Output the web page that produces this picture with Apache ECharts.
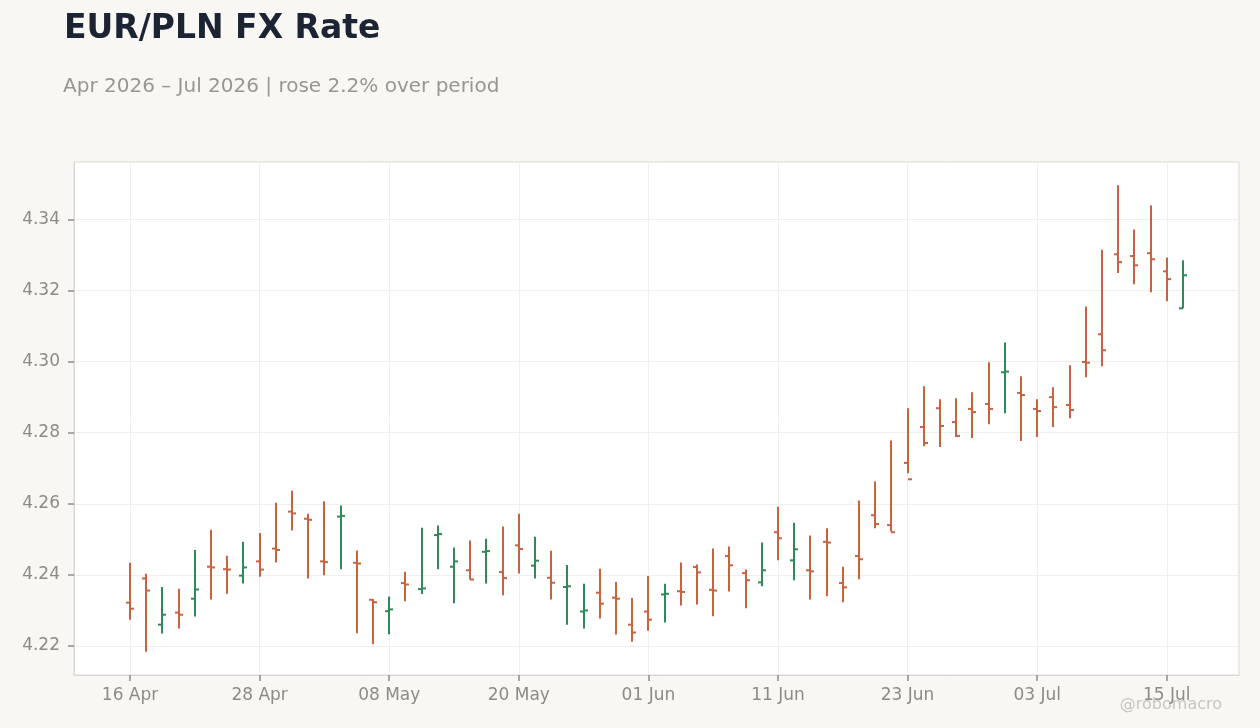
<!DOCTYPE html>
<html>
<head>
<meta charset="utf-8">
<script src="https://cdn.jsdelivr.net/npm/echarts@6.0.0/dist/echarts.min.js"></script>
<style>
  html, body { margin: 0; padding: 0; background: #f8f7f4; }
  #chart { width: 1260px; height: 728px; }
</style>
</head>
<body>
<div id="chart"></div>
<script>
// trading days, Apr 16 - Jul 16 2026
const dates = [
  '16 Apr', '17 Apr', '20 Apr', '21 Apr', '22 Apr', '23 Apr', '24 Apr', '27 Apr', '28 Apr', '29 Apr', '30 Apr',
  '01 May', '04 May', '05 May', '06 May', '07 May', '08 May', '11 May', '12 May', '13 May', '14 May', '15 May',
  '18 May', '19 May', '20 May', '21 May', '22 May', '25 May', '26 May', '27 May', '28 May', '29 May',
  '01 Jun', '02 Jun', '03 Jun', '04 Jun', '05 Jun', '08 Jun', '09 Jun', '10 Jun', '11 Jun', '12 Jun',
  '15 Jun', '16 Jun', '17 Jun', '18 Jun', '19 Jun', '22 Jun', '23 Jun', '24 Jun', '25 Jun', '26 Jun',
  '29 Jun', '30 Jun', '01 Jul', '02 Jul', '03 Jul', '06 Jul', '07 Jul', '08 Jul', '09 Jul', '10 Jul',
  '13 Jul', '14 Jul', '15 Jul', '16 Jul'
];

const opens = [
  4.2322, 4.2390, 4.2260, 4.2294, 4.2333, 4.2423, 4.2416, 4.2398, 4.2438, 4.2474, 4.2578,
  4.2558, 4.2438, 4.2564, 4.2434, 4.2330, 4.2298, 4.2377, 4.2360, 4.2512, 4.2423, 4.2413,
  4.2465, 4.2408, 4.2483, 4.2426, 4.2392, 4.2366, 4.2297, 4.2350, 4.2336, 4.2260,
  4.2297, 4.2345, 4.2354, 4.2422, 4.2358, 4.2453, 4.2405, 4.2379, 4.2520, 4.2441,
  4.2413, 4.2493, 4.2377, 4.2453, 4.2568, 4.2540, 4.2715, 4.2816, 4.2869, 4.2830,
  4.2867, 4.2881, 4.2970, 4.2912, 4.2867, 4.2900, 4.2878, 4.2999, 4.3077, 4.3302,
  4.3297, 4.3305, 4.3254, 4.3150
];
const highs = [
  4.2434, 4.2403, 4.2366, 4.2361, 4.2470, 4.2527, 4.2454, 4.2493, 4.2518, 4.2603, 4.2637,
  4.2572, 4.2607, 4.2595, 4.2469, 4.2332, 4.2339, 4.2409, 4.2533, 4.2539, 4.2477, 4.2497,
  4.2502, 4.2536, 4.2572, 4.2507, 4.2468, 4.2428, 4.2375, 4.2417, 4.2380, 4.2335,
  4.2397, 4.2375, 4.2435, 4.2429, 4.2474, 4.2480, 4.2415, 4.2491, 4.2592, 4.2547,
  4.2511, 4.2531, 4.2423, 4.2609, 4.2663, 4.2778, 4.2869, 4.2931, 4.2894, 4.2897,
  4.2914, 4.2998, 4.3054, 4.2959, 4.2894, 4.2928, 4.2990, 4.3155, 4.3315, 4.3496,
  4.3372, 4.3439, 4.3293, 4.3285
];
const lows = [
  4.2274, 4.2184, 4.2235, 4.2249, 4.2283, 4.2331, 4.2347, 4.2376, 4.2395, 4.2435, 4.2525,
  4.2390, 4.2399, 4.2416, 4.2236, 4.2205, 4.2233, 4.2326, 4.2346, 4.2416, 4.2320, 4.2387,
  4.2376, 4.2343, 4.2404, 4.2390, 4.2331, 4.2260, 4.2249, 4.2277, 4.2232, 4.2212,
  4.2243, 4.2266, 4.2314, 4.2317, 4.2284, 4.2353, 4.2306, 4.2368, 4.2441, 4.2385,
  4.2331, 4.2340, 4.2323, 4.2388, 4.2531, 4.2522, 4.2686, 4.2762, 4.2760, 4.2788,
  4.2785, 4.2824, 4.2855, 4.2777, 4.2788, 4.2816, 4.2841, 4.2956, 4.2987, 4.3249,
  4.3218, 4.3195, 4.3170, 4.3150
];
const closes = [
  4.2305, 4.2356, 4.2288, 4.2288, 4.2359, 4.2421, 4.2415, 4.2421, 4.2415, 4.2470, 4.2573,
  4.2555, 4.2436, 4.2566, 4.2432, 4.2323, 4.2303, 4.2373, 4.2362, 4.2515, 4.2438, 4.2387,
  4.2467, 4.2391, 4.2473, 4.2440, 4.2378, 4.2368, 4.2300, 4.2319, 4.2333, 4.2238,
  4.2274, 4.2347, 4.2352, 4.2407, 4.2356, 4.2427, 4.2385, 4.2413, 4.2503, 4.2472,
  4.2410, 4.2491, 4.2365, 4.2444, 4.2543, 4.2520, 4.2669, 4.2771, 4.2819, 4.2791,
  4.2858, 4.2867, 4.2972, 4.2906, 4.2861, 4.2872, 4.2864, 4.2997, 4.3032, 4.3280,
  4.3271, 4.3288, 4.3232, 4.3243
];

// axis ticks
const xTickIdx = [0, 8, 16, 24, 32, 40, 48, 56, 64];
const yTicks = [4.22, 4.24, 4.26, 4.28, 4.30, 4.32, 4.34];

const UP = '#2e8b57';
const DOWN = '#c9623f';
const FONT = 'DejaVu Sans';
const LABEL = '#8f8a85';
const FRAME = '#dcd7d0';
const TICK = '#8f8a85';

const ohlc = dates.map((d, i) => [i, opens[i], highs[i], lows[i], closes[i]]);

function renderOhlc(params, api) {
  const i = api.value(0);
  const pO = api.coord([i, api.value(1)]);
  const pH = api.coord([i, api.value(2)]);
  const pL = api.coord([i, api.value(3)]);
  const pC = api.coord([i, api.value(4)]);
  const x = Math.round(pO[0]);
  const color = api.value(4) >= api.value(1) ? UP : DOWN;
  const st = { stroke: color, lineWidth: 2 };
  return {
    type: 'group',
    children: [
      { type: 'line', shape: { x1: x, y1: pH[1], x2: x, y2: pL[1] }, style: st },
      { type: 'line', shape: { x1: x - 4, y1: pO[1], x2: x, y2: pO[1] }, style: st },
      { type: 'line', shape: { x1: x, y1: pC[1], x2: x + 4, y2: pC[1] }, style: st }
    ]
  };
}

const chart = echarts.init(document.getElementById('chart'), null, { renderer: 'canvas' });
chart.setOption({
  backgroundColor: '#f8f7f4',
  animation: false,
  title: [
    {
      text: 'EUR/PLN FX Rate',
      left: 59, top: 8,
      textStyle: { fontFamily: FONT, fontSize: 33, fontWeight: 'bold', color: '#1c2434' }
    },
    {
      text: 'Apr 2026 \u2013 Jul 2026 | rose 2.2% over period',
      left: 58, top: 72,
      textStyle: { fontFamily: FONT, fontSize: 20, fontWeight: 'normal', color: '#9a9590' }
    }
  ],
  graphic: [
    {
      type: 'text', right: 38, top: 697, z: 100,
      style: { text: '@robomacro', fontFamily: FONT, fontSize: 16, fill: 'rgba(160,154,148,0.55)' }
    }
  ],
  grid: {
    left: 74, right: 21, top: 162, bottom: 53,
    show: true, backgroundColor: '#ffffff', borderColor: FRAME, borderWidth: 1
  },
  xAxis: {
    type: 'value',
    min: -3.46, max: 68.46,
    axisLine: { show: true, onZero: false, lineStyle: { color: FRAME } },
    axisTick: { show: true, customValues: xTickIdx, length: 6, lineStyle: { color: TICK, width: 1.5 } },
    axisLabel: {
      customValues: xTickIdx, margin: 12,
      formatter: (v) => dates[Math.round(v)] || '',
      fontFamily: FONT, fontSize: 17, color: LABEL
    },
    splitLine: { show: true, lineStyle: { color: '#efefef', width: 1 } }
  },
  yAxis: {
    type: 'value',
    min: (v) => v.min - (v.max - v.min) * 0.05,
    max: (v) => v.max + (v.max - v.min) * 0.05,
    axisLine: { show: true, onZero: false, lineStyle: { color: FRAME } },
    axisTick: { show: true, customValues: yTicks, length: 6, lineStyle: { color: TICK, width: 1.5 } },
    axisLabel: {
      customValues: yTicks, margin: 14,
      formatter: (v) => v.toFixed(2),
      fontFamily: FONT, fontSize: 17, color: LABEL
    },
    splitLine: { show: true, lineStyle: { color: '#efefef', width: 1 } }
  },
  series: [
    {
      type: 'custom',
      renderItem: renderOhlc,
      encode: { x: 0, y: [1, 2, 3, 4] },
      data: ohlc,
      clip: true
    }
  ]
});
</script>
</body>
</html>
